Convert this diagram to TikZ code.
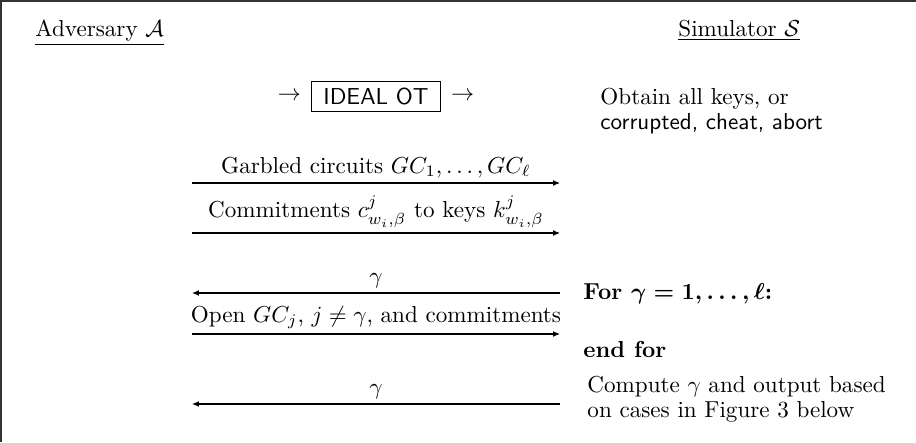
\documentclass[tikz,border=0pt]{standalone}
\usetikzlibrary{arrows.meta, positioning}
\usepackage{amsmath}
\usepackage{amssymb}

\begin{document}
\begin{tikzpicture}[
    x=0.433pt, y=-0.433pt,
    >={Latex[length=3pt,width=2.5pt]},
    font={\fontsize{10}{10.8}\selectfont},
    party/.style={anchor=base west, inner sep=0pt},
    msg/.style={->, line width=0.45pt},
    lbl/.style={above, inner sep=2pt},
    note/.style={anchor=west, align=left, inner sep=0pt},
    step box/.style={draw, inner xsep=5pt, inner ysep=2.8pt, font=\sffamily},
    frame/.style={line width=0.7pt, draw=black!80}
]
\useasboundingbox (0,0) rectangle (916,442);
\draw[frame] (1,442) -- (1,1) -- (916,1);

% parties
\node[party] (adv) at (35,36) {\underline{Adversary $\mathcal{A}$}};
\node[party] (sim) at (678,36) {\underline{Simulator $\mathcal{S}$}};

% ideal oblivious transfer
\node[step box] (ot) at (376,96) {IDEAL OT};
\node[left=1pt of ot] (otin) {$\rightarrow$};
\node[right=1pt of ot] (otout) {$\rightarrow$};
\node[note] (keys) at (600,111) {Obtain all keys, or\\\textsf{corrupted, cheat, abort}};

% message ends
\coordinate (a1) at (192,183); \coordinate (s1) at (560,183);
\coordinate (a2) at (192,233); \coordinate (s2) at (560,233);
\coordinate (a3) at (192,293); \coordinate (s3) at (560,293);
\coordinate (a4) at (192,334); \coordinate (s4) at (560,334);
\coordinate (a5) at (192,404); \coordinate (s5) at (560,404);

\draw[msg] (a1) -- node[lbl] {Garbled circuits $GC_1,\ldots,GC_\ell$} (s1);
\draw[msg] (a2) -- node[lbl] {Commitments $c^j_{w_i,\beta}$ to keys $k^j_{w_i,\beta}$} (s2);
\draw[msg] (s3) -- node[lbl] {$\gamma$} (a3);
\draw[msg] (a4) -- node[lbl] {Open $GC_j$, $j\neq\gamma$, and commitments} (s4);
\draw[msg] (s5) -- node[lbl] {$\gamma$} (a5);

% simulator side
\node[party] (loop) at (583,299) {\textbf{For {\boldmath$\gamma = 1,\ldots,\ell$}:}};
\node[party] (endloop) at (583,357) {\textbf{end for}};
\node[note] (out) at (587,399) {Compute $\gamma$ and output based\\on cases in Figure 3 below};
\end{tikzpicture}
\end{document}
